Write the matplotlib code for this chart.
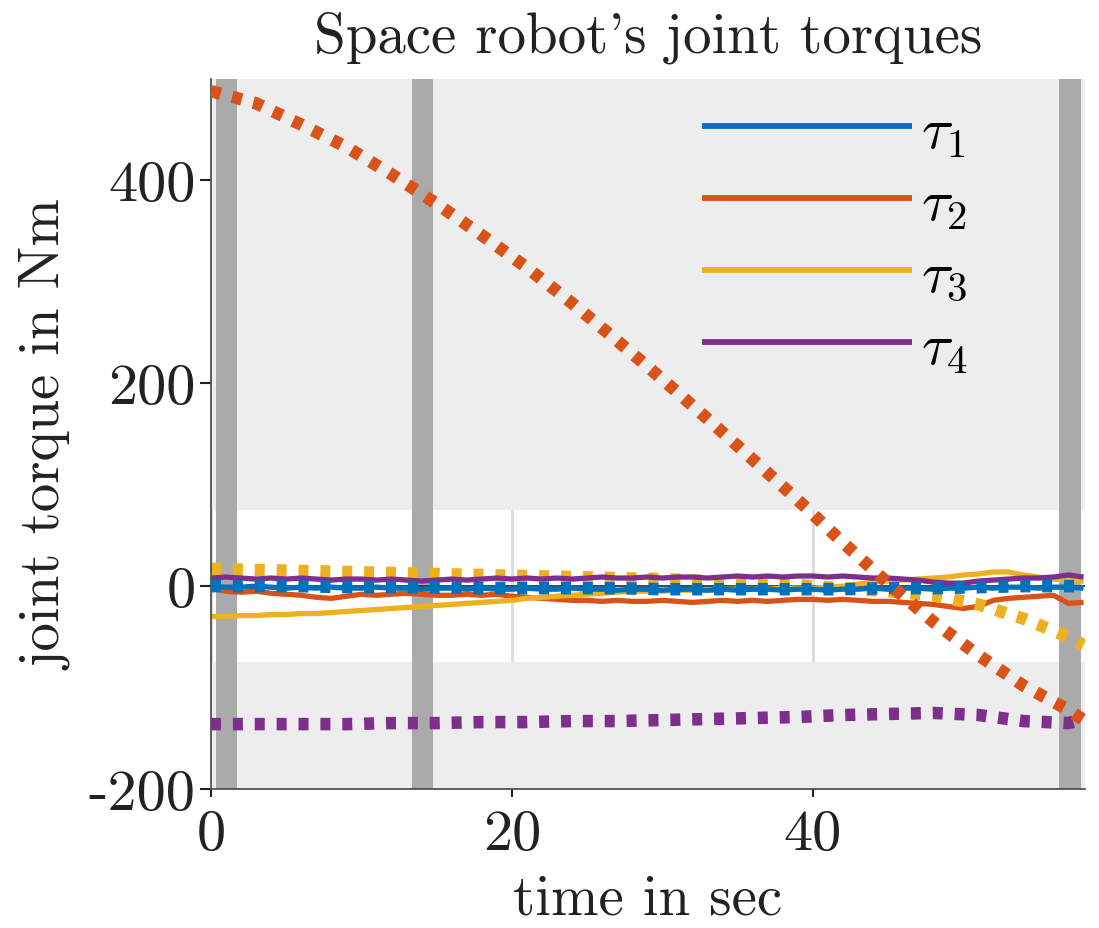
import matplotlib
matplotlib.use('Agg')
import matplotlib.pyplot as plt

plt.rcParams['font.family'] = 'serif'
plt.rcParams['font.serif'] = ['cmr10']
plt.rcParams['mathtext.fontset'] = 'cm'
plt.rcParams['axes.unicode_minus'] = False

# ---------------- data ----------------
# reference (desired) torques, dotted
t_ref = [0, 3, 6, 9, 12, 15, 18, 21, 24, 27, 30, 33, 36, 39, 42, 45, 48, 51, 54, 57, 58]
tau1_ref = [0, 0, 0, -1, -1, -1, -2, -2, -2, -2, -3, -3, -3, -3, -3, -2, -2, -1, 0, 0, 0]
tau2_ref = [488, 476, 455, 433, 406, 377, 346, 314, 279, 242, 204, 165, 125, 85, 43, 3,
            -35, -68, -98, -122, -132]
tau3_ref = [17, 16, 15, 14, 13, 12, 11, 10, 9, 8, 7, 5, 3, 1, -2, -5, -9, -18, -32, -50, -58]
tau4_ref = [-136, -136, -136, -136, -135, -135, -134, -134, -133, -133, -132, -131, -130,
            -129, -127, -126, -125, -127, -133, -135, -131]

# measured torques, solid (one sample per second, 0..58 s)
t_act = list(range(59))
tau1_act = [0, -1, -1, 0, -1, -2, -1, -2, -1, -2,
            -2, -1, -2, -2, -3, -2, -2, -3, -2, -3,
            -3, -2, -3, -3, -2, -3, -3, -4, -3, -3,
            -4, -3, -3, -4, -3, -4, -3, -3, -4, -3,
            -3, -4, -3, -3, -2, -3, -2, -2, -3, -2,
            -2, -1, -2, -1, -1, -2, -1, -1, -2]
tau2_act = [-2, -5, -6, -5, -7, -8, -9, -11, -12, -10,
            -8, -9, -8, -7, -8, -9, -9, -8, -9, -8,
            -10, -11, -12, -13, -14, -14, -15, -14, -15, -15,
            -14, -15, -16, -15, -14, -15, -14, -15, -14, -13,
            -13, -14, -13, -14, -15, -15, -16, -17, -18, -20,
            -22, -20, -14, -12, -11, -10, -9, -17, -16]
tau3_act = [-30, -30, -29, -29, -28, -28, -27, -27, -26, -25,
            -24, -23, -22, -21, -20, -19, -18, -17, -16, -15,
            -14, -12, -11, -10, -9, -8, -7, -6, -5, -5,
            -5, -4, -4, -4, -3, -3, -3, -3, -2, -2,
            -2, -1, 0, 2, 4, 5, 6, 7, 8, 9,
            11, 12, 14, 14, 11, 9, 7, 6, 5]
tau4_act = [8, 9, 8, 7, 8, 7, 8, 7, 6, 7,
            7, 6, 7, 6, 5, 6, 7, 6, 7, 8,
            7, 8, 7, 8, 7, 8, 9, 8, 8, 9,
            8, 9, 9, 8, 9, 10, 9, 10, 9, 10,
            10, 9, 10, 9, 8, 8, 7, 6, 4, 3,
            3, 5, 6, 7, 8, 8, 9, 11, 9]

labels = [r'$\tau_1$', r'$\tau_2$', r'$\tau_3$', r'$\tau_4$']
colors = ['#0072BD', '#D95319', '#EDB120', '#7E2F8E']

# shaded regions
band_limits = [-75, 75]
switch_intervals = [(0.33, 1.73), (13.35, 14.75), (56.4, 57.8)]

xlim = (0, 58.1)
ylim = (-200, 500)
xticks = [0, 20, 40]
yticks = [-200, 0, 200, 400]

FS = 42
FS_LAB = 41
TXT = '#222222'

# ---------------- figure ----------------
fig = plt.figure(figsize=(10.99, 9.29), dpi=100)
ax = fig.add_axes([0.192, 0.1496, 0.7953, 0.7643])

ax.set_axisbelow(True)
ax.grid(True, axis='x', color='#dcdcdc', lw=2)
ax.axhspan(band_limits[1], ylim[1], color='#ededed', lw=0, zorder=1)
ax.axhspan(ylim[0], band_limits[0], color='#ededed', lw=0, zorder=1)
for a, b in switch_intervals:
    ax.axvspan(a, b, color='#aaaaaa', lw=0, zorder=1.2)
ax.axhline(0, color='#222222', lw=1.2, zorder=1.5)

acts = [tau1_act, tau2_act, tau3_act, tau4_act]
refs = [tau1_ref, tau2_ref, tau3_ref, tau4_ref]
solid_z = [3, 2, 2, 3]
ref_z = [4, 5, 2.5, 4]
for i in range(4):
    ax.plot(t_act, acts[i], color=colors[i], lw=3.8, label=labels[i],
            zorder=solid_z[i], solid_capstyle='butt')
for i in range(4):
    ax.plot(t_ref, refs[i], color=colors[i], lw=9, dashes=(0.8, 0.95),
            dash_capstyle='butt', zorder=ref_z[i])

ax.set_xlim(*xlim)
ax.set_ylim(*ylim)
ax.set_xticks(xticks)
ax.set_yticks(yticks)
ax.tick_params(axis='both', labelsize=FS, width=1.5, color=TXT,
               labelcolor=TXT, direction='out')
ax.tick_params(axis='y', length=8, pad=3)
ax.tick_params(axis='x', length=6, pad=8)
for s in ['top', 'right']:
    ax.spines[s].set_visible(False)
for s in ['left', 'bottom']:
    ax.spines[s].set_color('#444444')
    ax.spines[s].set_linewidth(1.2)

ax.set_title("Space robot's joint torques", fontsize=FS_LAB, color=TXT, pad=20)
ax.set_xlabel('time in sec', fontsize=FS_LAB, color=TXT, labelpad=10)
ax.set_ylabel('joint torque in Nm', fontsize=FS_LAB, color=TXT, labelpad=12)

leg = ax.legend(loc='upper left', bbox_to_anchor=(0.535, 0.995), frameon=False,
                fontsize=FS, handlelength=3.6, handletextpad=0.15,
                labelspacing=0.33, borderaxespad=0)
for line in leg.get_lines():
    line.set_linewidth(4.2)

fig.savefig('out.png', dpi=100)
